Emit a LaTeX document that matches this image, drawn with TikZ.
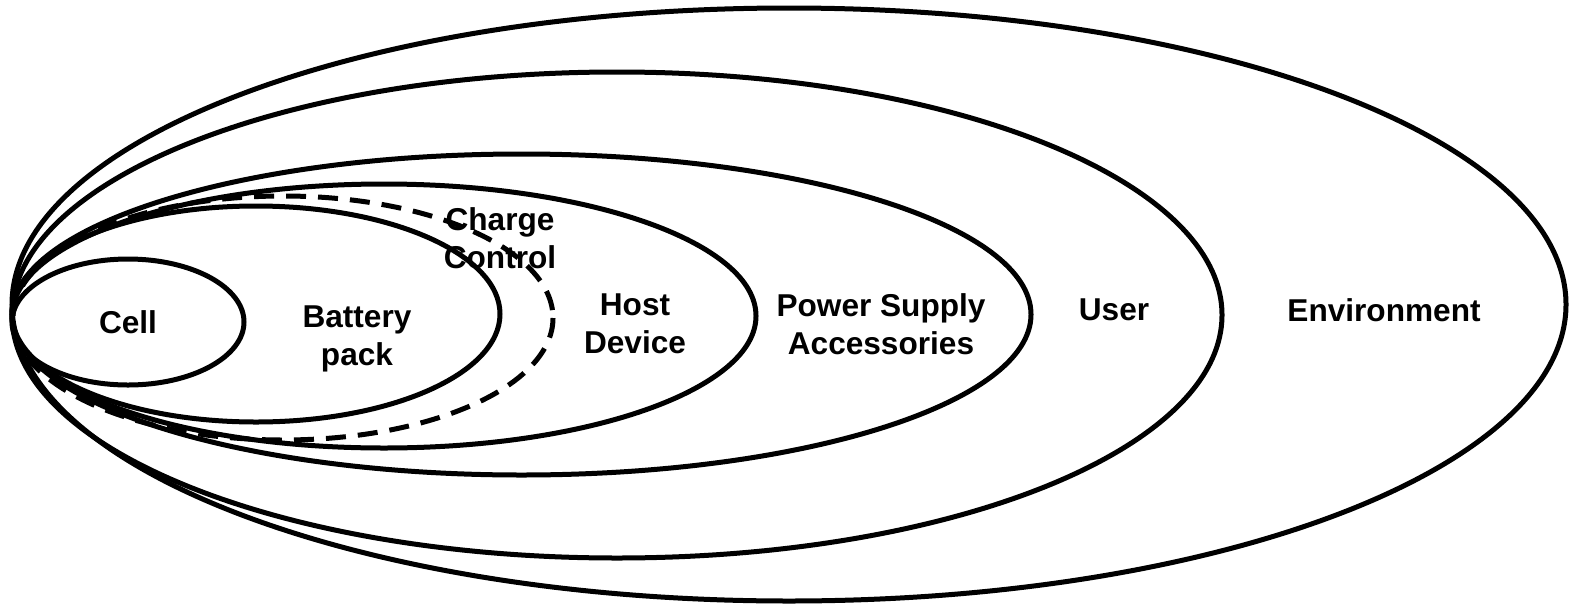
\documentclass[tikz,border=0pt]{standalone}
\usepackage{fontspec}
\setmainfont{Liberation Sans}
\usepackage{xcolor}
\usetikzlibrary{positioning,calc}
\definecolor{ink}{HTML}{000000}

\begin{document}
\begin{tikzpicture}[x=0.5pt, y=-0.5pt,
    ring/.style={draw=ink, line width=2.5pt},
    dashring/.style={ring, dash pattern=on 10pt off 6pt},
    lbl/.style={font=\bfseries\fontsize{15.8}{19}\selectfont, align=center, text=ink, inner sep=0pt}]
  \useasboundingbox (0,0) rectangle (1577,605);

  % layers, outermost first
  \draw[ring] (789,304.5) ellipse [x radius=777, y radius=296.5];
  \draw[ring] (617,315) ellipse [x radius=605, y radius=243];
  \draw[ring] (521.5,314.5) ellipse [x radius=509.5, y radius=160.5];
  \draw[ring] (384,316) ellipse [x radius=372, y radius=132];
  \draw[dashring] (283,318) ellipse [x radius=270, y radius=122];
  \draw[ring] (256,314) ellipse [x radius=244, y radius=108];
  \draw[ring] (128,322) ellipse [x radius=116, y radius=63];

  \node[lbl] (cell) at (128,322) {Cell};
  \node[lbl] (pack) at (357,339) {Battery\\pack};
  \node[lbl] (charge) at (500,238) {Charge\\Control};
  \node[lbl] (host) at (635,324) {Host\\Device};
  \node[lbl] (supply) at (881,324) {Power Supply\\Accessories};
  \node[lbl] (user) at (1114,310) {User};
  \node[lbl] (env) at (1384,310) {Environment};
\end{tikzpicture}
\end{document}
